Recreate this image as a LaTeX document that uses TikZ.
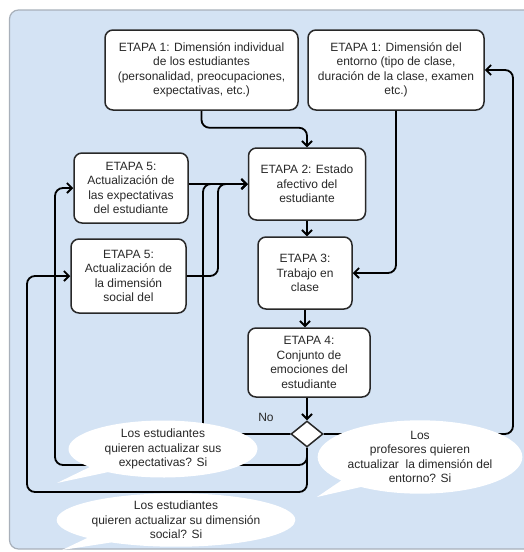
\documentclass[tikz,border=0pt]{standalone}
\usepackage{fontspec}
\setmainfont{Liberation Sans}
\usetikzlibrary{arrows.meta,shapes.geometric,shapes.callouts}
\definecolor{bgblue}{RGB}{212,227,244}
\definecolor{bgedge}{RGB}{168,176,186}
\definecolor{ink}{RGB}{40,40,40}
\tikzset{
  stepbox/.style={draw=ink, line width=1.5pt, rounded corners=8pt, fill=white,
    align=center, font=\fontsize{12}{14.5}\selectfont, text=ink, inner sep=2pt},
  conn/.style={line width=1.8pt, rounded corners=8pt, draw=black},
  arr/.style={conn, -{Straight Barb[length=5pt,width=10pt]}},
  bubble/.style={ellipse callout, fill=white, align=center,
    font=\fontsize{12}{14.5}\selectfont, text=ink, inner sep=0pt},
  lbl/.style={font=\fontsize{12}{14.5}\selectfont, text=ink}
}
\begin{document}
\begin{tikzpicture}[x=1pt,y=-1pt]
\useasboundingbox (0,0) rectangle (524,552);
\begin{scope}
\clip (0,0) rectangle (524,552);
\draw[bgedge, fill=bgblue, line width=1.2pt, rounded corners=9pt] (9.5,10) rectangle (545,549);
\end{scope}

% boxes
\node[stepbox, minimum width=193pt, minimum height=80pt] (A) at (201.5,70)
  {ETAPA 1: Dimensión individual\\de los estudiantes\\(personalidad, preocupaciones,\\expectativas, etc.)};
\node[stepbox, minimum width=176pt, minimum height=80pt] (B) at (396,70)
  {ETAPA 1: Dimensión del\\entorno (tipo de clase,\\duración de la clase, examen\\etc.)};
\node[stepbox, minimum width=117pt, minimum height=72pt] (S2) at (307,184)
  {ETAPA 2: Estado\\afectivo del\\estudiante};
\node[stepbox, minimum width=114pt, minimum height=70pt] (S5a) at (131,188)
  {ETAPA 5:\\Actualización de\\las expectativas\\del estudiante};
\node[stepbox, minimum width=115pt, minimum height=74pt] (S5b) at (128.5,276)
  {ETAPA 5:\\Actualización de\\la dimensión\\social del};
\node[stepbox, minimum width=94pt, minimum height=72pt] (S3) at (305,273)
  {ETAPA 3:\\Trabajo en\\clase};
\node[stepbox, minimum width=122pt, minimum height=69pt] (S4) at (309,362.5)
  {ETAPA 4:\\Conjunto de\\emociones del\\estudiante};
\node[diamond, draw=ink, line width=1.5pt, fill=white, minimum width=32pt,
  minimum height=26pt, inner sep=0pt] (D) at (307,434) {};

% helper coordinates
\coordinate (xL1) at (203,0);
\coordinate (xL2) at (218,0);
\coordinate (xA) at (55,0);
\coordinate (yA) at (0,465);
\coordinate (xB) at (27,0);
\coordinate (yB) at (0,492);
\coordinate (r) at (513,434);

% connectors
\draw[arr] (A.south) -- ++(0,17) -| (S2.north);
\draw[arr] (B.south) |- (S3.east);
\draw[arr] (S2.south) -- (S2.south |- S3.north);
\draw[arr] (S3.south) -- (S3.south |- S4.north);
\draw[arr] (D.north |- S4.south) -- (D.north);
\draw[arr] (D.east) -- (r) |- (B.east);
\draw[arr] (S5a.east |- S2.west) -- (S2.west);
\draw[arr] (D.west) -| (xL1 |- S2.west) -- (S2.west);
\draw[arr] (S5b.east) -| (xL2 |- S2.west) -- (S2.west);
\draw[arr] (D.south) |- (xA |- yA) |- (S5a.west);
\draw[arr] (D.south) |- (xB |- yB) |- (S5b.west);

\node[lbl] (no) at (266,417) {No};

% callouts
\node[bubble, minimum width=189pt, minimum height=57pt,
  callout absolute pointer={(57,483)}] (q1) at (163,449)
  {Los estudiantes\\quieren actualizar sus\\expectativas? Si};
\node[bubble, minimum width=202pt, minimum height=50pt,
  callout absolute pointer={(62,550)}] (q2) at (176,520)
  {Los estudiantes\\quieren actualizar su dimensión\\social? Si};
\node[bubble, minimum width=184pt, minimum height=70pt,
  callout absolute pointer={(317,497)}] (q3) at (420,457)
  {Los\\profesores quieren\\actualizar~ la dimensión del\\entorno? Si};
\end{tikzpicture}
\end{document}
